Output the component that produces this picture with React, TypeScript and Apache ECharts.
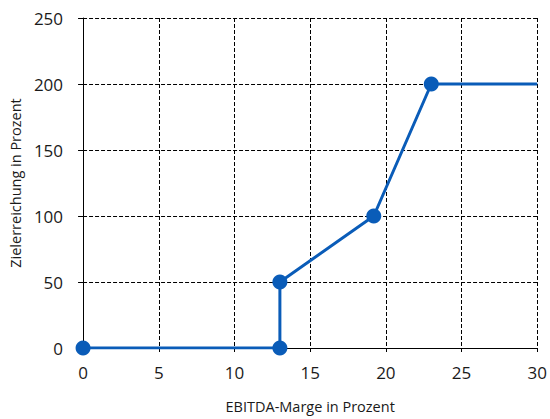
import React, { useEffect, useRef } from "react";
import * as echarts from "echarts";

const xValues = [0, 13, 13, 19.2, 23, 30];
const yValues = [0, 0, 50, 100, 200, 200];
const showMarker = [true, true, true, true, true, false];
const xTicks = { min: 0, max: 30, interval: 5 };
const yTicks = { min: 0, max: 250, interval: 50 };

export default function App() {
  const ref = useRef<HTMLDivElement>(null);
  useEffect(() => {
    document.body.style.margin = "0";
    if (!ref.current) return;
    const chart = echarts.init(ref.current, null, { renderer: "svg" });
    const font = "'Open Sans', 'Noto Sans', sans-serif";
    const data = xValues.map((x, i) => ({
      value: [x, yValues[i]],
      symbol: showMarker[i] ? "circle" : "none",
    }));
    chart.setOption({
      animation: false,
      grid: { left: 83, right: 10, top: 18, bottom: 71, containLabel: false },
      xAxis: {
        type: "value",
        ...xTicks,
        name: "EBITDA-Marge in Prozent",
        nameLocation: "middle",
        nameGap: 51,
        nameTextStyle: { fontFamily: font, fontSize: 14.5, color: "#1a1a1a" },
        axisLine: { show: true, lineStyle: { color: "#000", width: 1 } },
        axisTick: { show: true, inside: false, length: 4, lineStyle: { color: "#000" } },
        axisLabel: { fontFamily: font, fontSize: 17, color: "#1a1a1a", margin: 16 },
        splitLine: { show: true, lineStyle: { color: "#000", type: [4, 2], width: 1 } },
      },
      yAxis: {
        type: "value",
        ...yTicks,
        name: "Zielerreichung in Prozent",
        nameLocation: "middle",
        nameGap: 56,
        nameRotate: 90,
        nameTextStyle: { fontFamily: font, fontSize: 14.5, color: "#1a1a1a" },
        axisLine: { show: true, lineStyle: { color: "#000", width: 1 } },
        axisTick: { show: true, inside: false, length: 5, lineStyle: { color: "#000" } },
        axisLabel: { fontFamily: font, fontSize: 17, color: "#1a1a1a", margin: 20 },
        splitLine: { show: true, lineStyle: { color: "#000", type: [4, 2], width: 1 } },
      },
      series: [
        {
          type: "line",
          data,
          symbolSize: 15,
          showAllSymbol: true,
          lineStyle: { color: "#0a5cb8", width: 3 },
          itemStyle: { color: "#0a5cb8" },
          z: 5,
        },
      ],
    });
    return () => chart.dispose();
  }, []);
  return <div ref={ref} style={{ width: 550, height: 419 }} />;
}
